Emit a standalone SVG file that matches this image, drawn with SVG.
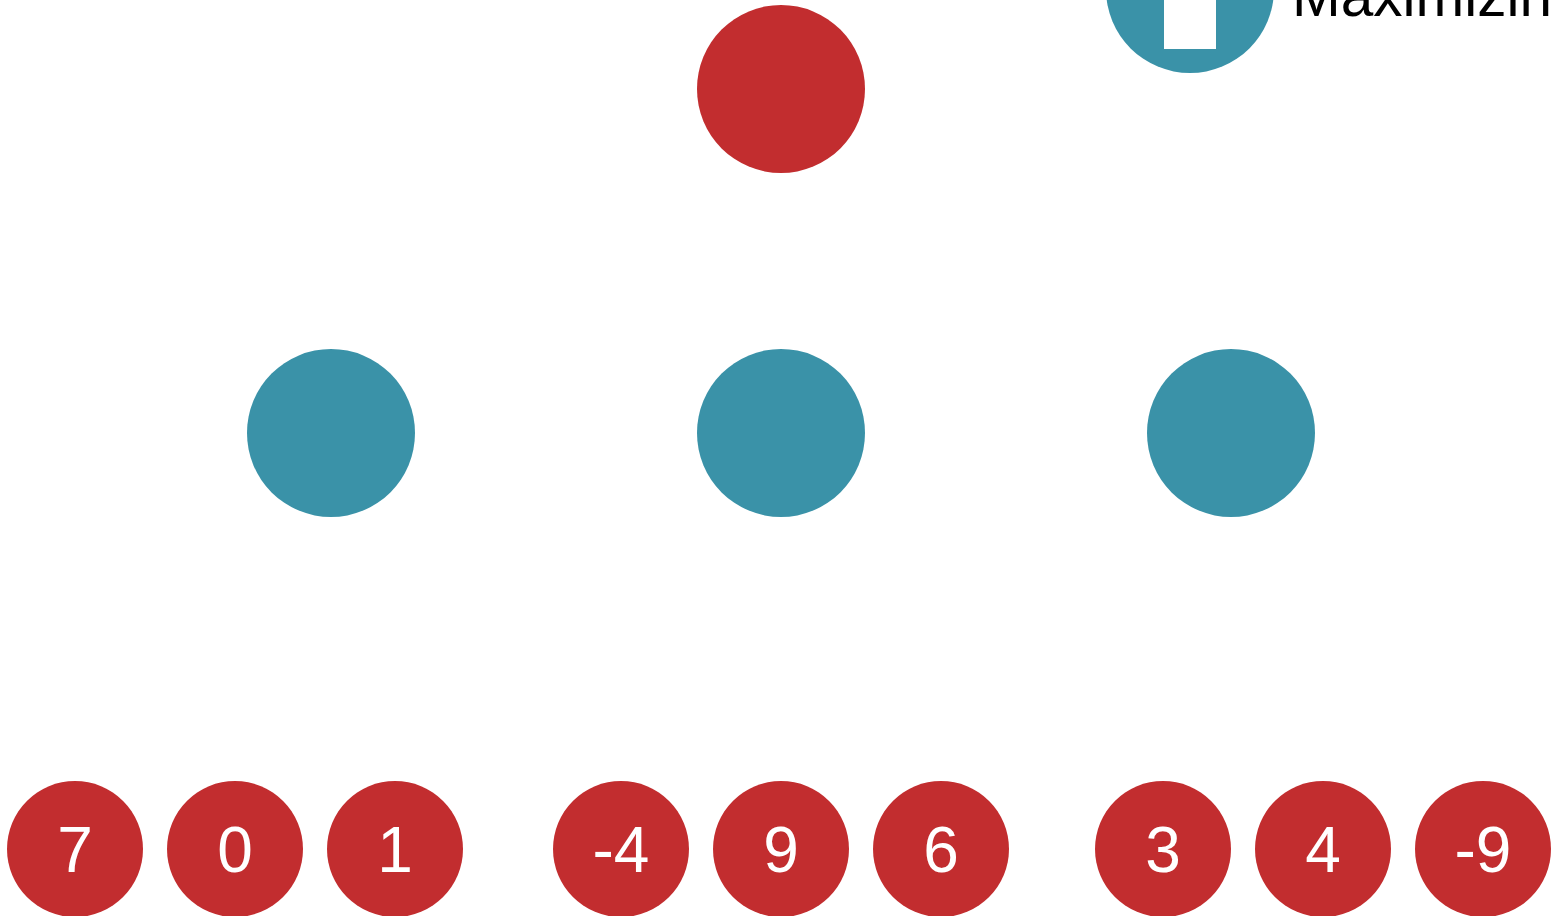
<svg xmlns="http://www.w3.org/2000/svg" width="1557" height="916" viewBox="0 0 1557 916">
<style>
.max{fill:#3A92A8}
.min{fill:#C22D2F}
.v{fill:#fff;font-family:"Liberation Sans",Arial,sans-serif;font-size:64px;text-anchor:middle}
.lg{fill:#000;font-family:"Liberation Sans",Arial,sans-serif;font-size:58.5px}
</style>
<defs>
<clipPath id="lgclip"><rect x="1280" y="-60" width="269" height="120"/></clipPath>
</defs>
<rect width="1557" height="916" fill="#fff"/>
<g id="connectors"></g>
<g id="legend">
<circle class="max" cx="1190" cy="-11" r="84"/>
<rect x="1164" y="-20" width="52" height="69" fill="#fff"/>
<text class="lg" x="1292" y="16" clip-path="url(#lgclip)">Maximizing</text>
</g>
<g id="root"><circle class="min" cx="781" cy="89" r="84"/></g>
<g id="m1"><circle class="max" cx="331" cy="433" r="84"/></g>
<g id="m2"><circle class="max" cx="781" cy="433" r="84"/></g>
<g id="m3"><circle class="max" cx="1231" cy="433" r="84"/></g>
<g id="l1"><circle class="min" cx="75" cy="849" r="68"/><text class="v" x="75" y="872">7</text></g>
<g id="l2"><circle class="min" cx="235" cy="849" r="68"/><text class="v" x="235" y="872">0</text></g>
<g id="l3"><circle class="min" cx="395" cy="849" r="68"/><text class="v" x="395" y="872">1</text></g>
<g id="l4"><circle class="min" cx="621" cy="849" r="68"/><text class="v" x="621" y="872">-4</text></g>
<g id="l5"><circle class="min" cx="781" cy="849" r="68"/><text class="v" x="781" y="872">9</text></g>
<g id="l6"><circle class="min" cx="941" cy="849" r="68"/><text class="v" x="941" y="872">6</text></g>
<g id="l7"><circle class="min" cx="1163" cy="849" r="68"/><text class="v" x="1163" y="872">3</text></g>
<g id="l8"><circle class="min" cx="1323" cy="849" r="68"/><text class="v" x="1323" y="872">4</text></g>
<g id="l9"><circle class="min" cx="1483" cy="849" r="68"/><text class="v" x="1483" y="872">-9</text></g>
</svg>
